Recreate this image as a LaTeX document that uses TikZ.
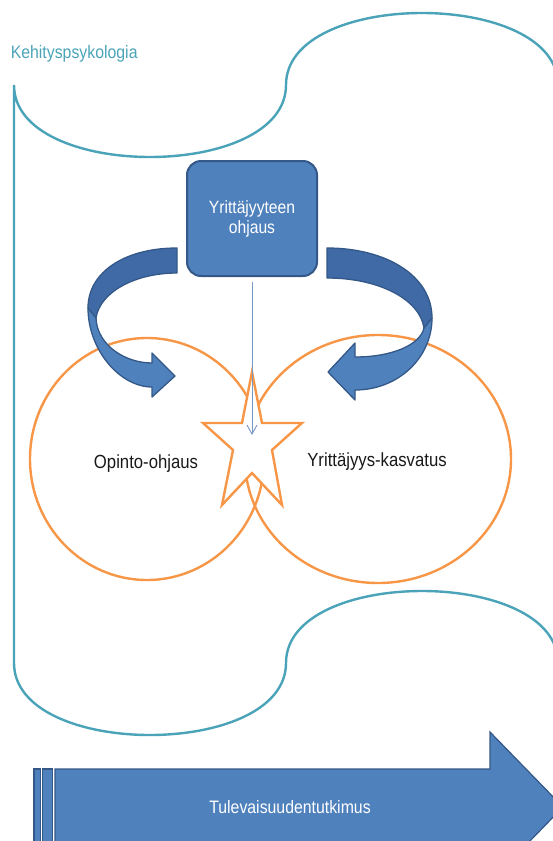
\documentclass[tikz,border=0pt]{standalone}
\usepackage{fontspec}
\newfontfamily\arialn[FakeStretch=0.88]{Liberation Sans}
\usetikzlibrary{arrows.meta}
\definecolor{teal1}{RGB}{74,163,184}
\definecolor{orng}{RGB}{247,150,70}
\definecolor{blu}{RGB}{79,129,189}
\definecolor{bluedark}{RGB}{52,88,135}
\definecolor{bluback}{RGB}{63,106,166}
\definecolor{thinblue}{RGB}{122,152,196}
\definecolor{txt}{RGB}{25,25,25}
\begin{document}
\begin{tikzpicture}[x=1pt,y=-1pt,
  wave/.style={draw=teal1, line width=2.4pt},
  ring/.style={draw=orng, line width=2.4pt},
  carrback/.style={fill=bluback, draw=bluedark, line width=1.3pt, line join=round},
  carrfront/.style={fill=blu, draw=bluedark, line width=1.3pt, line join=round},
  bigarr/.style={fill=blu, draw=bluedark, line width=1.2pt},
  boxst/.style={rectangle, rounded corners=14pt, draw=bluedark, line width=2pt, fill=blu,
    minimum width=130pt, minimum height=115pt, inner sep=0pt},
  boxtext/.style={text=white, align=center, inner sep=0pt,
    font=\arialn\fontsize{17.8}{20}\selectfont},
  lbl/.style={inner sep=0pt, text=txt, font=\arialn\fontsize{19}{22}\selectfont},
  thinarr/.style={draw=thinblue, line width=0.9pt, -{Straight Barb[length=9pt,width=10pt]}}
]
\useasboundingbox (0,0) rectangle (553,841);
\clip (0,0) rectangle (553,841);

% wave frame
\draw[wave] (14,85) .. controls (14,181) and (286,181) .. (286,85)
  .. controls (286,-11) and (558,-11) .. (558,85) -- (558,663)
  .. controls (558,567) and (286,567) .. (286,663)
  .. controls (286,759) and (14,759) .. (14,663) -- cycle;
\node[anchor=base west, inner sep=0pt, text=teal1, font=\arialn\fontsize{18}{21}\selectfont] (kp) at (10.6,58) {Kehityspsykologia};

% circles
\draw[ring] (147,459) ellipse [x radius=117pt, y radius=121pt];
\draw[ring] (378,459) ellipse [x radius=133pt, y radius=124pt];

% star
\draw[ring, fill=white, line join=miter] (252,372) -- (262,423) -- (302,423) -- (272,450)
  -- (282,505) -- (252,473) -- (222,505) -- (233,450) -- (203,423) -- (242,423) -- cycle;

% left curved arrow
\draw[carrback] (177,248) .. controls (125,248) and (88,272) .. (88,308) -- (96,318)
  .. controls (100,292) and (135,273) .. (177,273) -- cycle;
\draw[carrfront] (88,308) .. controls (88,350) and (120,387) .. (152,387) -- (152,397)
  -- (175,376) -- (152,353) -- (152,363) .. controls (125,363) and (97,345) .. (96,318) -- cycle;

% right curved arrow
\draw[carrback] (327,248) .. controls (385,248) and (432,275) .. (432,318) -- (424,328)
  .. controls (420,300) and (380,278) .. (327,278) -- cycle;
\draw[carrfront] (432,318) .. controls (432,358) and (398,390) .. (355,390) -- (355,400)
  -- (328,372) -- (355,343) -- (355,357) .. controls (392,357) and (420,345) .. (424,328) -- cycle;

% box
\node[boxst] (box) at (252,218.5) {};
\node[boxtext, anchor=base] (boxt) at (252,233) {Yrittäjyyteen\\ohjaus};
\coordinate (sc) at (252,435);
\draw[thinarr] ([yshift=-5pt]box.south) -- (sc);

% labels
\node[lbl, anchor=base] (opo) at (146,468) {Opinto-ohjaus};
\node[lbl, anchor=base] (yk) at (377,466) {Yrittäjyys-kasvatus};

% bottom striped arrow
\draw[bigarr] (34,769) rectangle (40.7,845);
\draw[bigarr] (42.7,769) rectangle (52.7,845);
\draw[bigarr] (55,769) -- (490,769) -- (490,732) -- (563,807) -- (490,882) -- (490,845) -- (55,845) -- cycle;
\node[anchor=base, inner sep=0pt, text=white, font=\arialn\fontsize{18}{21}\selectfont] (tt) at (290,813) {Tulevaisuudentutkimus};
\end{tikzpicture}
\end{document}
